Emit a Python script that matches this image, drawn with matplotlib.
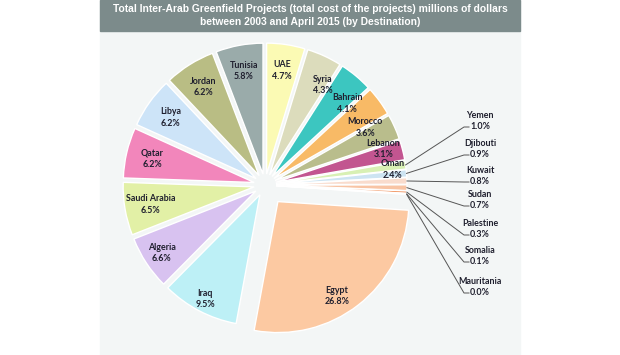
import numpy as np
import matplotlib.pyplot as plt
from matplotlib.patches import Rectangle

# values (share of total, %), clockwise from 12 o'clock
countries = ["UAE", "Syria", "Bahrain", "Morocco", "Lebanon", "Oman",
             "Yemen", "Djibouti", "Kuwait", "Sudan", "Palestine", "Somalia",
             "Mauritania", "Egypt", "Iraq", "Algeria", "Saudi Arabia",
             "Qatar", "Libya", "Jordan", "Tunisia"]
shares = [4.7, 4.3, 4.1, 3.6, 3.1, 2.4,
          1.0, 0.9, 0.8, 0.7, 0.3, 0.1,
          0.0, 26.8, 9.5, 6.6, 6.5,
          6.2, 6.2, 6.2, 5.8]
colors = ["#fbfab4", "#dcdcbc", "#3cc6c0", "#f8ba66", "#b9bd8c", "#c25590",
          "#d8f0b4", "#cde4f2", "#f9dccd", "#f8c4a4", "#f0905a", "#f7dbc2",
          "#f5c9a8", "#fcc9a2", "#bdf0f6", "#d8c2f0", "#e2f0a6",
          "#f286bb", "#cde4f8", "#b9bd84", "#9aabaa"]
# the small ones get leader lines to a column of labels on the right
small = ["Yemen", "Djibouti", "Kuwait", "Sudan", "Palestine", "Somalia", "Mauritania"]
small_y = [121, 149, 176, 200, 229, 256, 287]

W, H = 620, 355
fig = plt.figure(figsize=(6.2, 3.55), dpi=100)
ax = fig.add_axes([0, 0, 1, 1])

# panel + title banner
ax.add_patch(Rectangle((100, 0), 420, H, color="#f3f6f6", zorder=0))
ax.add_patch(Rectangle((100, H - 31), 420, 31, color="#7c8b8b", zorder=0))
ax.text(310, H - 9, "Total Inter-Arab Greenfield Projects (total cost of the projects) millions of dollars",
        ha="center", va="center", color="white", fontsize=7.4, fontweight="bold",
        family="Liberation Sans")
ax.text(310, H - 22, "between 2003 and April 2015 (by Destination)",
        ha="center", va="center", color="white", fontsize=7.4, fontweight="bold",
        family="Liberation Sans")

# explode is in data units here (pixels)
explode = [21 if c == "Egypt" else 11 for c in countries]
wedges, _ = ax.pie(shares, colors=colors, explode=explode, startangle=90,
                   counterclock=False, center=(265, H - 185), radius=131,
                   wedgeprops=dict(edgecolor="white", linewidth=1))

ax.set_xlim(0, W)
ax.set_ylim(0, H)
ax.set_aspect("equal")
ax.axis("off")

# label placement tweaks (fraction of radius, angle shift)
dist = {"Iraq": 0.9, "Algeria": 0.86, "Lebanon": 0.86, "Oman": 0.9, "Egypt": 0.85}
shift = {"Syria": -6, "Bahrain": -6, "Morocco": -7, "Lebanon": -8, "Oman": -8,
         "Egypt": -6}

txt = dict(fontsize=6.4, fontweight="bold", color="#1f1f2e", family="Lato",
           linespacing=1.35)
for w, c, s in zip(wedges, countries, shares):
    ang = np.deg2rad((w.theta1 + w.theta2) / 2)
    cx, cy = w.center
    if c in small:
        i = small.index(c)
        x0 = cx + w.r * np.cos(ang)
        y0 = cy + w.r * np.sin(ang)
        yl = H - small_y[i] - 6
        ax.plot([x0, 464, 469], [y0, yl, yl], color="#555555", lw=0.7)
        ax.text(480, H - small_y[i], f"{c}\n{s:.1f}%", ha="center", va="center", **txt)
        continue
    d = dist.get(c, 0.8)
    a = ang + np.deg2rad(shift.get(c, 0))
    ax.text(cx + d * w.r * np.cos(a), cy + d * w.r * np.sin(a), f"{c}\n{s:.1f}%",
            ha="center", va="center", **txt)

fig.savefig("out.png", dpi=100)
